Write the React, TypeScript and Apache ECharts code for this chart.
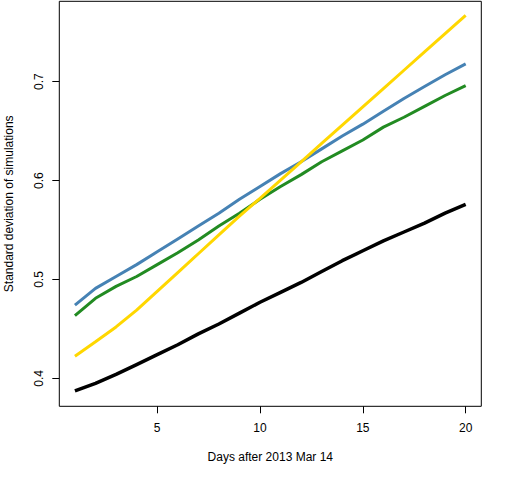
import React, { useEffect, useRef } from "react";
import * as echarts from "echarts";

const days = [1, 2, 3, 4, 5, 6, 7, 8, 9, 10, 11, 12, 13, 14, 15, 16, 17, 18, 19, 20];
const blackValues = [0.3873, 0.395, 0.404, 0.414, 0.424, 0.434, 0.445, 0.455, 0.466, 0.477, 0.487, 0.497, 0.508, 0.519, 0.529, 0.539, 0.548, 0.557, 0.567, 0.576];
const blueValues = [0.474, 0.491, 0.503, 0.515, 0.528, 0.541, 0.554, 0.567, 0.581, 0.594, 0.607, 0.619, 0.632, 0.645, 0.657, 0.67, 0.683, 0.695, 0.707, 0.718];
const greenValues = [0.4635, 0.481, 0.493, 0.503, 0.515, 0.527, 0.54, 0.554, 0.567, 0.581, 0.594, 0.606, 0.619, 0.63, 0.641, 0.654, 0.664, 0.675, 0.686, 0.696];
const yellowValues = [0.4225, 0.437, 0.452, 0.469, 0.488, 0.507, 0.526, 0.545, 0.564, 0.582, 0.6005, 0.619, 0.6375, 0.656, 0.6745, 0.693, 0.7115, 0.73, 0.7485, 0.767];
const xTicks = [5, 10, 15, 20];
const yTicks = [0.4, 0.5, 0.6, 0.7];

const FONT = "Liberation Sans";

function pairs(vals: number[]) {
  return days.map((d, i) => [d, vals[i]]);
}

export default function App() {
  const ref = useRef<HTMLDivElement>(null);
  useEffect(() => {
    const chart = echarts.init(ref.current!, null, { renderer: "svg" });
    chart.setOption({
      animation: false,
      backgroundColor: "#ffffff",
      grid: {
        left: 59.3,
        right: 30.7,
        top: 1.3,
        bottom: 73.7,
        containLabel: false,
        outerBoundsMode: "none",
        show: true,
        borderColor: "#000",
        borderWidth: 1,
        backgroundColor: "transparent",
      },
      xAxis: {
        type: "value",
        min: 0.24,
        max: 20.76,
        name: "Days after 2013 Mar 14",
        nameLocation: "middle",
        nameGap: 45,
        nameTextStyle: { fontFamily: FONT, fontSize: 12, color: "#000" },
        axisLine: { show: false },
        splitLine: { show: false },
        axisTick: {
          show: true,
          customValues: xTicks,
          length: 7,
          inside: false,
          lineStyle: { color: "#000", width: 1 },
        },
        axisLabel: {
          customValues: xTicks,
          margin: 16,
          fontFamily: FONT,
          fontSize: 12,
          color: "#000",
        },
      },
      yAxis: {
        type: "value",
        min: 0.3718,
        max: 0.7812,
        name: "Standard deviation of simulations",
        nameLocation: "middle",
        nameGap: 44,
        nameRotate: 90,
        nameTextStyle: { fontFamily: FONT, fontSize: 12, color: "#000" },
        axisLine: { show: false },
        splitLine: { show: false },
        axisTick: {
          show: true,
          customValues: yTicks,
          length: 7,
          lineStyle: { color: "#000", width: 1 },
        },
        axisLabel: {
          customValues: yTicks,
          rotate: 90,
          margin: 14,
          fontFamily: FONT,
          fontSize: 12,
          color: "#000",
          formatter: (v: number) => v.toFixed(1),
        },
      },
      series: [
        {
          type: "line",
          data: pairs(blackValues),
          showSymbol: false,
          lineStyle: { color: "#000000", width: 3.5 },
        },
        {
          type: "line",
          data: pairs(blueValues),
          showSymbol: false,
          lineStyle: { color: "#4682B4", width: 3 },
        },
        {
          type: "line",
          data: pairs(greenValues),
          showSymbol: false,
          lineStyle: { color: "#228B22", width: 3 },
        },
        {
          type: "line",
          data: pairs(yellowValues),
          showSymbol: false,
          lineStyle: { color: "#FFD700", width: 3 },
        },
      ],
    });
    return () => chart.dispose();
  }, []);
  return (
    <div
      ref={ref}
      style={{ position: "fixed", left: 0, top: 0, width: 512, height: 480, background: "#fff" }}
    />
  );
}
